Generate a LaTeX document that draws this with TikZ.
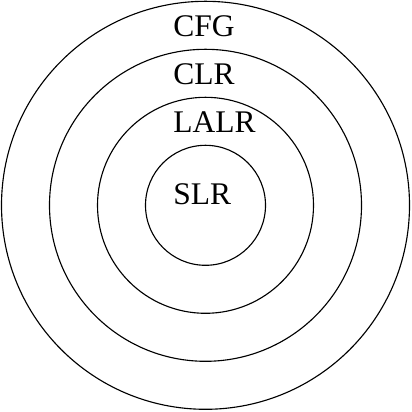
\documentclass[tikz,border=0pt]{standalone}
\usepackage{fontspec}
\setmainfont{Liberation Serif}
\usepackage{tikz}
\usetikzlibrary{positioning}
\tikzset{ring/.style={line width=0.8pt}, lbl/.style={anchor=base west, inner sep=0pt, font=\fontsize{22.4}{26}\selectfont}}

\begin{document}
\begin{tikzpicture}[x=0.025cm, y=-0.025cm]
    \useasboundingbox (0, 0) rectangle (412, 412);
    \coordinate (c) at (205.5, 205.3);
    \draw [ring] (c) circle (204);
    \draw [ring] (c) circle (156);
    \draw [ring] (c) circle (108);
    \draw [ring] (c) circle (60);

    \node [lbl] (cfg) at (173, 36.7) {CFG};
    \node [lbl] (clr) at (173, 84.3) {CLR};
    \node [lbl] (lalr) at (173, 132.7) {LALR};
    \node [lbl] (slr) at (173, 204) {SLR};
\end{tikzpicture}
\end{document}
